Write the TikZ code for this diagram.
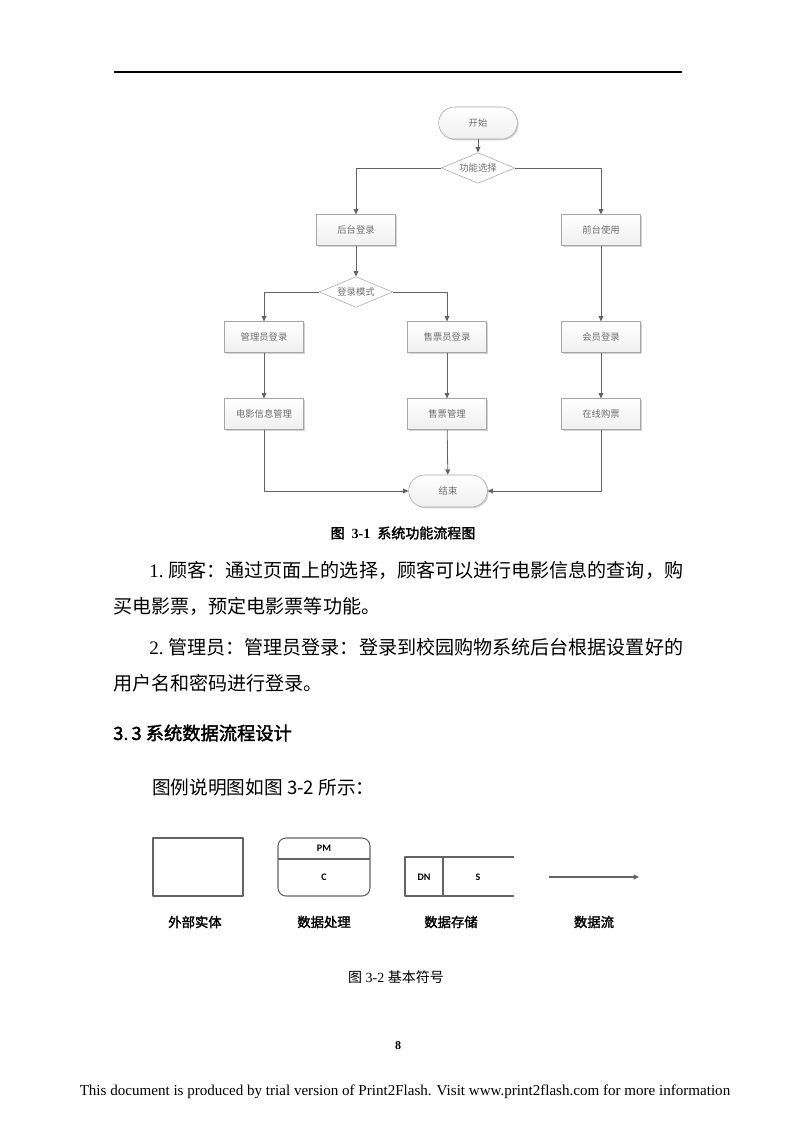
\documentclass[tikz,border=0pt]{standalone}
\usepackage{fontspec}
\setmainfont{Liberation Serif}
\newfontfamily\cjk{Noto Sans CJK SC}
\newfontfamily\cjkbold[FakeBold=2]{Noto Sans CJK SC}
\newfontfamily\legendsans{Carlito}
\usetikzlibrary{shapes.geometric,arrows.meta,shadows}
\definecolor{fcline}{RGB}{100,100,100}
\definecolor{fctext}{RGB}{110,110,110}
\newcommand\bodysize{\fontsize{14.3}{16}\selectfont}
\begin{document}
\begin{tikzpicture}[x=0.75pt, y=-0.75pt, line join=round, >={Triangle[length=4pt,width=3.6pt]},
	fcbox/.style={rectangle, draw=gray!70, top color=white, bottom color=gray!12, minimum width=59pt, minimum height=23pt, inner sep=1pt, font=\cjk\fontsize{7}{8}\selectfont, text=fctext, drop shadow={shadow xshift=1pt, shadow yshift=-1pt, opacity=.35}},
	fcterm/.style={fcbox, rounded corners=12pt, minimum height=24pt},
	fcchoice/.style={diamond, aspect=2.4, draw=gray!70, fill=white, minimum width=55pt, minimum height=23pt, inner sep=0pt, font=\cjk\fontsize{7}{8}\selectfont, text=fctext},
	fcarrow/.style={->, draw=fcline, line width=.6pt},
	legendlabel/.style={font=\cjkbold\fontsize{10}{12}\selectfont},
	symtext/.style={font=\legendsans\bfseries\fontsize{7.5}{9}\selectfont}]
	\useasboundingbox (0,0) rectangle (794,1123);
	% page header rule
	\draw[line width=1.2pt] (114,72)--(682,72);
	% flow chart
	\node[fcterm] (start) at (478,123) {开始};
	\node[fcchoice] (choose) at (478,168) {功能选择};
	\node[fcbox] (back) at (356,230) {后台登录};
	\node[fcbox] (front) at (601,230) {前台使用};
	\node[fcchoice] (mode) at (356,292) {登录模式};
	\node[fcbox] (admin) at (264,337) {管理员登录};
	\node[fcbox] (seller) at (447,337) {售票员登录};
	\node[fcbox] (member) at (601,337) {会员登录};
	\node[fcbox] (movie) at (264,414) {电影信息管理};
	\node[fcbox] (ticket) at (447,414) {售票管理};
	\node[fcbox] (buy) at (601,414) {在线购票};
	\node[fcterm] (stop) at (448,491) {结束};
	\draw[fcarrow] (start)--(choose);
	\draw[fcarrow] (choose.west) -| (back.north);
	\draw[fcarrow] (choose.east) -| (front.north);
	\draw[fcarrow] (back)--(mode);
	\draw[fcarrow] (mode.west) -| (admin.north);
	\draw[fcarrow] (mode.east) -| (seller.north);
	\draw[fcarrow] (admin)--(movie);
	\draw[fcarrow] (seller)--(ticket);
	\draw[fcarrow] (front)--(member);
	\draw[fcarrow] (member)--(buy);
	\draw[fcarrow] (movie.south) |- (stop.west);
	\draw[fcarrow] (ticket)--(stop);
	\draw[fcarrow] (buy.south) |- (stop.east);
	\node (cap1) at (403,533) {\fontsize{10.5}{12}\selectfont{\cjkbold 图}\enspace\textbf{3-1}\enspace{\cjkbold 系统功能流程图}};
	% body text
	\node[anchor=west, inner sep=0pt] (para1a) at (149,570) {\bodysize 1.\ {\cjk 顾客：通过页面上的选择，顾客可以进行电影信息的查询，购}};
	\node[anchor=west, inner sep=0pt] (para1b) at (113,606) {\bodysize\cjk 买电影票，预定电影票等功能。};
	\node[anchor=west, inner sep=0pt] (para2a) at (149,647) {\bodysize 2.\ {\cjk 管理员：管理员登录：登录到校园购物系统后台根据设置好的}};
	\node[anchor=west, inner sep=0pt] (para2b) at (113,683) {\bodysize\cjk 用户名和密码进行登录。};
	\node[anchor=west, inner sep=0pt] (head) at (113,733) {\cjkbold\fontsize{13.7}{15}\selectfont 3.\,3 系统数据流程设计};
	\node[anchor=west, inner sep=0pt] (legendintro) at (152,787) {\fontsize{14}{16}\selectfont\cjk 图例说明图如图 3-2 所示：};
	% legend symbols
	\draw[fcline, line width=.8pt] (153,838) rectangle (243,896);
	\node[inner sep=0pt] (entity) at (198,867) {};
	\draw[fcline, line width=.8pt, rounded corners=6pt] (278,838) rectangle (370,896);
	\draw[fcline, line width=.8pt] (278,859)--(370,859);
	\node[symtext] (pm) at (324,848.5) {PM};
	\node[symtext] (proc) at (324,877) {C};
	\draw[fcline, line width=.8pt] (514,857)--(405,857)--(405,896)--(514,896);
	\draw[fcline, line width=.8pt] (443,857)--(443,896);
	\node[symtext] (dn) at (424,877) {DN};
	\node[symtext] (store) at (478,877) {S};
	\coordinate (flowA) at (549,877);
	\coordinate (flowB) at (639,877);
	\draw[fcarrow, line width=.8pt] (flowA)--(flowB);
	\node[legendlabel] (lbentity) at (195,922) {外部实体};
	\node[legendlabel] (lbproc) at (324,922) {数据处理};
	\node[legendlabel] (lbstore) at (451,922) {数据存储};
	\node[legendlabel] (lbflow) at (594,922) {数据流};
	\node (cap2) at (396,977) {\fontsize{10.5}{12}\selectfont{\cjk 图}\ 3-2\ {\cjk 基本符号}};
	% page number and footer
	\node (pagenum) at (398,1046) {\fontsize{9}{10}\selectfont\bfseries 8};
	\node (footer) at (405,1092) {\fontsize{11.3}{13}\selectfont This document is produced by trial version of Print2Flash. Visit www.print2flash.com for more information};
\end{tikzpicture}
\end{document}
